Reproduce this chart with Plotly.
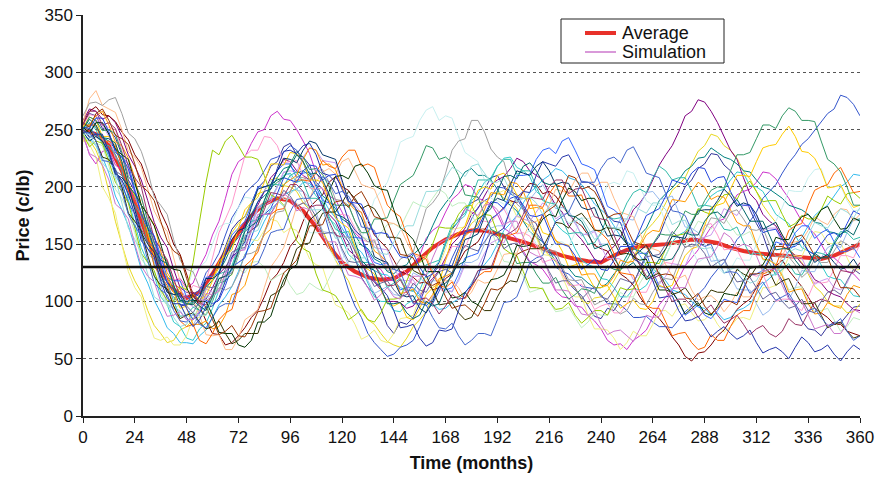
import plotly.graph_objects as go

months = list(range(0, 361, 6))      # average series grid
months3 = list(range(0, 361, 3))     # simulation grid
target_price = 130

average = [250, 246, 236, 214, 186, 155, 128, 110, 103, 108,
           124, 143, 160, 175, 185, 190, 188, 179, 165, 148,
           134, 126, 121, 119, 120, 126, 137, 147, 154, 159,
           162, 162, 159, 155, 152, 148, 144, 140, 137, 135,
           134, 140, 145, 148, 149, 150, 152, 154, 153, 151,
           147, 144, 142, 141, 140, 139, 138, 137, 140, 145, 150]

# ---- simulation paths read every 3 months ----
sim_01 = [255,264,262,251,250,243,228,206,196,184,165,152,132,117,110,96,97,108,104,118,125,133,148,163,170,174,186,199,205,218,222,235,238,228,226,219,204,198,186,176,160,152,138,121,112,107,94,79,72,82,80,86,98,115,125,134,150,163,170,181,186,189,198,208,210,200,196,193,182,172,168,153,144,139,128,116,110,105,96,87,85,94,92,101,110,116,128,142,150,157,172,183,188,200,206,216,220,229,228,219,214,206,196,180,168,158,142,127,118,104,96,83,76,75,70,78,82,81,88,95,96]
sim_02 = [246,228,220,231,232,219,215,204,188,177,160,151,135,129,118,120,112,116,130,141,158,170,190,211,222,226,238,248,250,262,266,259,258,250,240,229,212,204,192,189,178,166,160,154,142,131,128,119,118,126,124,129,140,155,162,166,178,189,194,202,200,190,188,185,176,164,160,155,144,135,132,128,120,109,104,103,96,95,88,83,76,66,62,63,58,66,70,75,86,97,104,110,120,131,138,145,156,165,170,172,182,193,196,198,204,213,212,207,198,190,180,170,164,159,150,140,138,133,126,124,118]
sim_03 = [240,241,232,218,196,170,150,131,118,108,92,79,72,64,66,75,78,84,96,110,120,129,146,160,168,174,186,194,196,206,208,201,200,196,186,180,170,162,150,136,126,118,104,91,84,80,72,65,62,60,68,78,84,91,104,117,124,131,146,159,168,173,184,193,196,190,188,181,170,166,156,146,140,135,124,116,112,101,98,103,104,109,118,128,132,138,150,162,168,175,186,197,202,208,220,231,236,246,244,236,232,225,214,207,196,184,176,169,158,146,140,134,124,113,108,100,96,96,90,91,98]
sim_04 = [250,253,244,239,226,210,200,189,168,147,134,123,104,97,82,78,68,66,76,81,94,110,120,128,146,154,168,181,186,190,200,210,212,204,206,201,192,186,172,167,154,141,136,129,116,104,100,100,92,91,98,101,110,123,128,135,150,164,170,175,188,194,204,208,218,225,226,217,214,209,196,191,180,168,162,158,146,136,132,130,120,119,112,104,104,111,110,114,124,129,140,152,158,161,170,180,184,192,196,198,206,213,212,201,200,196,186,176,172,168,158,147,144,141,132,122,120,119,112,105,104]
sim_05 = [258,268,266,259,262,256,244,228,218,206,188,169,156,147,128,112,108,108,100,102,112,124,130,138,152,168,176,184,196,208,214,224,222,214,210,206,196,183,176,170,158,145,140,134,122,117,110,100,100,99,94,96,104,114,120,127,138,150,156,164,176,181,192,202,206,209,216,225,222,214,210,206,194,184,178,166,160,154,146,137,134,143,148,156,168,180,186,194,206,219,228,236,248,262,266,276,274,266,256,244,232,224,208,194,188,176,170,166,156,145,140,133,128,119,116,109,106,104,98,93,92]
sim_06 = [256,266,270,263,262,257,248,241,228,220,204,194,178,166,150,141,124,106,96,83,72,71,62,64,70,77,86,92,104,118,124,134,148,155,170,182,188,193,204,209,200,197,188,182,170,158,152,146,136,126,124,121,116,117,110,112,120,124,134,144,148,152,162,172,176,182,188,186,196,203,202,194,196,192,184,176,170,166,158,149,146,144,134,124,120,114,104,96,90,85,78,69,62,52,48,55,56,62,70,75,84,93,98,102,112,122,124,131,136,127,120,113,104,94,90,86,80,80,74,72,70]
sim_07 = [248,256,252,243,240,233,220,203,192,178,160,147,130,122,110,101,98,99,104,113,118,126,136,149,156,163,176,187,192,198,208,216,218,212,214,210,202,192,188,181,172,168,158,149,146,137,134,126,124,130,132,141,146,153,166,178,186,193,204,213,216,210,210,206,198,188,184,179,170,161,156,152,144,135,132,129,122,121,116,112,112,116,124,130,140,151,158,164,176,188,194,199,206,214,218,225,226,234,230,226,224,220,214,213,206,200,198,194,190,184,182,180,176,169,168,161,160,158,164,171,172]
sim_08 = [252,250,246,240,228,214,204,186,176,158,146,136,120,108,104,97,98,106,110,125,132,142,158,173,182,194,200,205,214,224,226,230,236,232,222,205,196,182,162,141,128,110,96,86,72,64,58,52,54,60,62,66,78,91,98,109,124,138,150,158,172,182,188,191,200,199,194,190,180,168,160,152,142,130,126,124,118,113,112,111,106,98,98,97,92,86,86,87,82,78,78,77,84,91,96,106,112,121,128,134,144,154,160,170,178,190,196,202,212,221,228,237,242,249,256,264,268,280,278,272,262]
sim_09 = [244,242,236,226,212,192,180,166,148,128,116,101,90,77,72,64,64,63,70,75,86,97,104,113,126,141,150,158,170,180,186,193,196,198,204,203,196,190,180,173,164,155,148,143,134,127,124,123,118,112,110,109,104,99,98,93,94,99,102,107,116,126,132,139,150,162,168,175,186,195,200,206,210,216,214,208,206,202,194,185,180,175,166,157,152,148,140,132,128,125,118,110,108,106,100,95,94,88,90,84,86,92,94,98,106,115,120,125,134,144,150,156,166,175,180,184,192,200,204,211,210]

# paths given as 6-monthly readings (t = 0, 6, ...) plus in-between readings (t = 3, 9, ...)
sim_10_a = [250,240,222,198,168,140,118,102,110,130,150,168,182,190,196,200,190,176,160,146,136,150,172,196,220,242,258,270,262,244,226,206,188,172,158,150,146,152,160,172,188,204,214,200,184,168,156,146,138,130,128,136,150,166,182,196,208,216,200,188,180]
sim_10_m = [251,224,215,179,162,123,113,98,127,135,165,168,191,189,206,189,186,160,160,136,149,154,189,204,239,244,267,258,260,230,222,190,185,161,162,142,152,148,173,175,202,202,212,188,184,156,154,134,141,124,138,136,163,170,197,196,215,200,201,179]
sim_11_a = [246,238,218,190,160,130,108,94,88,96,106,118,128,134,130,122,114,108,112,120,132,144,154,160,168,176,184,190,194,186,176,162,148,134,122,110,100,92,86,82,88,96,104,116,128,140,150,160,168,172,166,158,148,136,124,112,100,92,84,78,84]
sim_11_m = [238,236,198,178,137,126,96,97,85,106,108,131,125,135,118,125,106,116,109,131,134,157,151,167,164,187,182,198,183,186,165,163,135,131,108,112,91,95,77,90,88,108,104,125,126,152,150,170,163,174,158,161,136,133,110,113,91,94,74,86]
sim_12_a = [242,226,190,150,112,84,66,62,70,86,104,122,140,154,162,170,164,150,132,112,94,80,70,66,72,86,104,124,146,164,178,188,194,186,172,156,140,122,104,88,76,68,64,70,80,92,96,90,84,80,78,86,98,112,126,140,152,160,150,138,128]
sim_12_m = [237,200,177,126,104,68,69,62,86,89,116,123,154,153,172,160,162,137,130,97,90,67,75,64,85,88,119,131,163,165,186,183,197,174,170,141,136,109,104,76,75,58,74,70,92,87,98,83,90,73,85,84,112,114,139,139,161,151,152,127]
sim_13_a = [252,244,228,204,174,142,114,94,84,90,104,124,146,168,186,200,210,196,178,160,144,130,118,110,106,112,122,118,112,120,134,150,166,180,190,196,192,182,170,160,150,160,172,184,196,190,178,164,150,136,122,110,98,92,100,112,126,138,150,160,170]
sim_13_m = [243,242,209,194,154,136,98,92,79,104,109,141,150,182,189,213,197,190,161,159,132,130,107,113,105,125,114,118,108,134,137,164,166,190,189,202,181,179,157,162,150,172,171,195,189,192,165,160,135,136,111,110,88,101,102,127,126,147,147,172]
sim_14_a = [254,262,252,232,204,172,142,118,104,112,138,172,206,232,244,236,222,210,198,188,176,164,152,140,130,124,120,126,136,148,160,170,176,170,160,148,136,124,114,104,96,90,98,108,120,134,148,160,166,158,146,134,122,110,102,96,104,116,128,140,150]
sim_14_m = [263,253,250,212,191,149,137,106,114,118,160,185,227,232,243,221,223,199,199,175,175,154,154,129,130,114,130,126,148,147,170,169,181,159,157,134,137,114,115,93,98,90,111,108,130,133,161,158,168,145,145,124,124,100,102,92,117,117,140,138]
sim_15_a = [248,258,244,222,194,164,136,114,100,98,108,124,144,164,184,200,214,226,232,222,204,184,164,146,130,118,108,104,108,118,130,142,154,164,172,178,182,176,168,158,148,138,130,124,118,122,132,144,156,168,178,184,176,164,150,138,126,118,112,116,124]
sim_15_m = [247,254,225,215,174,156,118,112,95,111,110,137,146,181,187,213,213,234,223,221,188,177,147,145,119,119,99,111,109,132,130,151,151,175,170,186,172,177,159,161,137,137,119,128,115,133,131,155,158,181,175,183,162,164,139,138,115,120,110,128]
sim_16_a = [256,284,268,250,226,198,168,138,110,88,70,58,68,88,112,138,164,186,204,216,222,214,200,184,168,152,138,126,118,112,108,116,128,142,156,170,184,196,206,212,204,190,176,160,146,132,120,110,104,100,98,104,114,126,140,152,162,170,176,180,176]
sim_16_m = [277,271,265,231,217,179,161,118,102,71,71,58,84,93,130,147,183,189,213,211,225,202,198,169,165,141,140,116,118,102,119,117,141,142,168,173,198,195,212,200,204,178,174,146,144,122,123,101,105,91,108,104,126,126,151,153,174,167,181,170]
sim_17_a = [250,256,246,226,198,168,140,118,104,108,122,142,164,184,200,214,220,212,200,186,170,156,144,132,120,112,106,102,110,124,140,158,176,194,210,224,234,240,232,218,200,180,160,142,126,112,100,92,88,92,100,112,124,138,150,160,166,160,152,144,138]
sim_17_m = [246,256,232,220,177,157,121,118,101,121,125,158,170,200,201,220,208,213,188,184,156,155,134,134,110,112,96,113,112,138,142,172,181,210,211,232,229,243,220,215,183,175,147,142,113,109,88,97,85,102,99,123,127,152,149,166,155,163,143,147]
sim_18_a = [246,250,236,214,184,152,122,100,88,92,106,126,148,170,188,202,210,204,190,174,160,146,134,124,116,110,118,134,152,172,190,206,218,224,214,200,186,172,160,150,160,172,186,198,208,214,208,196,184,172,162,152,142,134,128,124,132,142,152,160,156]
sim_18_m = [256,237,228,191,175,132,117,87,95,95,124,131,162,171,202,201,213,190,187,163,161,134,132,112,120,109,132,136,167,177,206,206,224,211,214,188,185,159,160,151,174,173,195,195,218,206,208,183,183,163,165,141,141,123,133,123,143,140,161,154]
sim_19_a = [246,240,222,196,164,134,110,100,110,170,232,240,236,226,210,190,168,146,124,108,96,88,84,90,102,118,134,150,164,176,184,176,160,142,126,112,100,94,88,86,92,100,110,122,134,146,158,168,178,186,194,200,196,188,176,168,172,180,188,194,190]
sim_19_m = [235,238,204,186,142,127,101,113,134,204,228,245,226,224,193,184,153,143,110,105,84,93,82,102,103,131,138,165,164,183,172,175,146,140,112,111,93,99,81,92,88,112,111,134,133,157,159,181,176,193,189,205,187,188,165,175,172,192,185,195]
sim_20_a = [252,258,244,222,192,160,130,108,96,102,118,140,164,186,204,220,230,222,206,188,168,148,128,110,96,86,94,112,136,160,182,200,210,204,190,174,158,144,132,122,112,104,98,94,100,112,128,146,166,184,198,210,222,236,246,244,230,214,200,190,184]
sim_20_m = [261,244,238,203,184,139,122,94,106,105,135,145,180,191,220,219,229,206,204,173,164,131,124,99,99,84,106,116,155,166,197,198,212,193,190,160,154,130,134,112,114,94,101,93,114,114,140,148,182,186,210,209,234,237,253,231,225,199,202,182]
sim_21_a = [254,262,254,236,208,176,144,116,94,80,76,88,108,132,158,184,206,224,232,220,200,180,160,140,122,108,100,106,122,142,162,180,194,204,196,182,166,150,136,124,114,122,134,148,162,176,188,196,200,192,180,166,150,136,122,110,98,90,96,106,112]
sim_21_m = [254,266,239,225,184,167,125,111,80,83,78,106,114,148,163,202,210,234,219,215,186,178,144,134,107,111,98,120,125,157,167,195,193,203,181,181,153,149,123,124,114,136,135,158,161,189,187,204,189,191,169,166,137,132,108,111,89,99,94,114]
sim_22_a = [248,254,240,218,188,154,122,96,78,66,72,90,112,136,160,180,196,206,212,218,226,232,220,200,178,158,140,124,112,106,112,126,142,158,172,184,194,200,192,178,160,142,124,108,94,82,72,64,60,66,78,92,108,126,146,166,184,200,212,206,196]
sim_22_m = [254,239,236,198,177,131,114,83,80,63,84,93,131,143,176,181,206,205,223,216,232,218,217,184,174,142,137,114,117,103,122,126,157,160,184,182,202,192,193,163,154,125,123,96,94,70,73,58,71,66,88,92,124,131,162,168,197,202,217,195]
sim_23_a = [250,246,232,210,182,152,126,106,96,100,112,128,146,162,176,186,192,186,174,160,146,134,124,116,110,106,110,118,128,138,146,152,156,150,142,134,126,118,112,108,104,110,118,128,140,150,156,150,142,134,126,118,112,106,100,96,92,100,110,118,124]
sim_23_m = [243,245,214,201,163,147,110,104,90,113,115,143,147,174,177,197,183,183,159,160,135,135,113,118,104,116,108,126,125,149,144,160,146,151,134,138,116,118,102,113,102,120,116,139,141,161,147,149,130,137,117,121,102,108,94,102,90,108,106,128]
sim_24_a = [262,274,276,264,242,214,184,154,128,112,104,110,124,142,160,178,196,208,214,204,188,170,152,138,128,140,162,186,212,240,258,248,226,202,180,160,144,130,118,108,100,94,92,98,108,120,134,148,162,172,178,172,162,150,140,132,126,134,144,150,154]
sim_24_m = [273,271,278,247,231,191,176,136,126,101,112,113,141,145,172,179,209,206,215,189,184,157,153,127,137,143,181,194,232,242,258,233,222,185,173,144,144,119,119,97,102,89,103,97,117,119,148,150,173,168,180,163,164,139,139,121,137,134,153,145]
sim_25_a = [248,244,230,208,180,150,124,106,98,104,120,140,162,182,200,214,224,232,238,226,206,182,158,136,118,104,94,100,116,136,156,174,190,202,212,218,214,204,192,180,168,158,150,144,140,146,156,168,180,188,192,186,176,166,158,150,144,138,134,130,128]
sim_25_m = [240,240,211,201,160,143,108,107,97,120,124,154,164,198,202,225,221,240,228,224,188,173,139,134,106,105,90,113,122,154,159,185,188,214,210,222,202,203,182,182,157,157,139,149,138,157,155,179,180,198,183,184,163,169,149,153,134,141,128,137]
sim_26_a = [250,258,250,230,202,170,140,114,98,92,100,118,140,162,184,204,220,226,216,200,184,170,160,172,188,206,222,234,226,210,192,176,160,146,134,124,116,110,106,110,120,128,136,144,150,158,166,176,188,200,214,228,242,254,262,266,258,240,220,200,184]
sim_26_m = [261,249,246,209,191,151,135,100,98,88,116,124,157,166,199,208,231,215,211,184,184,160,172,173,202,210,236,224,221,193,191,163,159,133,134,116,121,102,111,107,131,127,146,140,159,158,179,176,197,199,228,230,254,251,269,258,257,224,213,184]
sim_27_a = [252,256,246,228,204,176,150,128,112,100,88,72,62,66,82,104,128,152,176,196,210,218,212,198,180,160,142,126,112,104,100,108,120,134,148,162,176,188,196,190,178,164,150,136,122,110,100,94,90,96,106,118,130,142,154,166,176,180,172,164,170]
sim_27_m = [247,256,233,224,184,166,131,127,101,100,73,72,60,82,87,119,132,171,181,209,207,220,201,197,164,154,126,126,103,108,97,119,123,149,149,172,174,199,188,190,164,162,139,137,110,108,89,99,88,107,105,129,132,156,154,174,170,183,163,173]
sim_28_a = [246,240,224,200,170,140,114,96,88,82,78,72,66,72,88,108,130,150,166,178,186,190,184,172,156,140,124,110,98,90,86,92,104,118,132,146,158,168,174,170,162,152,142,132,122,114,108,104,102,108,116,124,130,126,118,108,98,88,80,74,70]
sim_28_m = [251,226,215,177,162,122,111,85,90,76,83,63,72,72,105,114,146,151,177,178,196,181,181,156,155,127,123,97,99,84,97,92,114,117,146,147,169,164,177,162,165,141,140,119,125,106,112,96,110,108,128,121,131,114,120,98,99,77,82,68]
sim_29_a = [256,264,258,242,220,196,170,144,120,100,84,74,70,78,92,110,130,150,166,180,188,192,186,172,156,140,126,114,104,96,92,98,110,126,144,162,180,196,208,200,186,176,164,150,136,124,112,102,96,94,100,110,124,136,148,156,150,138,124,112,104]
sim_29_m = [252,268,245,237,201,188,153,140,104,95,71,79,69,91,94,125,136,166,167,187,182,196,174,170,141,138,116,117,94,97,87,111,113,141,146,176,184,210,198,196,173,177,152,149,123,123,103,107,89,100,97,124,125,148,145,158,140,139,112,111]
sim_30_a = [254,266,256,236,208,176,146,120,104,98,106,122,142,162,180,194,202,196,184,170,156,144,132,122,114,108,102,98,96,102,114,128,144,160,176,190,200,206,198,186,172,158,144,132,120,110,102,96,92,88,84,80,76,72,74,80,90,102,114,126,134]
sim_30_m = [266,254,251,218,200,155,136,104,108,97,120,125,157,167,195,192,202,182,184,158,156,131,132,114,119,99,103,89,106,103,127,129,157,164,191,189,206,194,199,174,171,144,143,122,123,100,102,86,97,81,88,71,79,69,85,79,99,100,127,125]
sim_31_a = [250,246,230,206,176,146,118,98,86,84,96,118,144,172,196,216,232,236,228,210,188,162,136,112,92,78,68,64,74,92,114,138,160,180,196,210,220,226,218,204,188,170,152,134,118,104,92,84,78,74,72,70,64,58,56,60,64,58,54,56,58]
sim_31_m = [244,246,212,194,153,139,103,98,78,95,103,139,152,187,198,231,229,238,212,204,171,157,118,105,77,80,61,75,76,108,122,157,164,191,195,222,218,228,204,201,175,169,137,129,103,105,83,87,69,78,67,75,55,60,50,69,56,62,48,62]
sim_32_a = [248,240,222,196,166,136,110,92,82,80,86,98,114,130,146,162,178,190,198,204,196,182,164,146,128,112,98,86,76,70,66,72,84,100,118,138,156,174,190,204,216,226,232,224,210,194,178,162,148,136,126,118,112,108,104,98,92,86,80,74,70]
sim_32_m = [247,223,216,176,157,116,106,83,89,77,95,98,129,133,160,163,189,190,209,194,192,165,162,132,126,98,97,77,81,62,72,70,99,104,134,140,170,178,205,204,224,221,235,212,208,179,175,151,150,125,125,107,117,101,107,88,94,79,85,66]
sim_33_a = [252,260,248,226,196,164,134,110,94,90,98,114,134,156,176,194,206,214,218,210,198,186,172,160,148,138,130,124,132,146,162,176,186,190,184,174,162,150,140,132,128,136,148,162,178,192,204,212,216,208,196,184,172,162,154,148,144,150,160,168,176]
sim_33_m = [251,260,230,216,176,157,116,105,84,101,101,130,138,171,181,208,204,219,206,211,187,185,159,159,139,142,121,131,131,161,164,187,181,192,175,176,150,148,128,137,127,148,148,175,181,206,202,217,204,209,185,184,160,163,147,154,141,158,156,179]
sim_34_a = [246,236,214,186,154,124,100,86,80,88,102,120,140,160,176,188,194,190,180,168,156,146,138,142,152,166,182,196,208,214,218,212,204,196,190,186,182,176,170,164,158,164,172,180,186,180,170,158,146,136,128,122,118,124,134,146,158,166,172,178,182]
sim_34_m = [246,221,208,164,142,104,100,78,90,88,116,126,158,162,185,183,199,180,180,155,156,138,148,141,162,166,196,197,217,209,220,204,208,187,191,176,186,168,173,154,166,164,184,177,186,167,171,147,147,125,130,116,129,123,143,144,169,164,181,173]
sim_35_a = [244,226,206,180,150,122,100,88,84,92,106,124,144,162,176,186,190,182,168,152,136,122,112,106,104,110,122,138,154,168,178,184,180,170,156,140,124,110,98,88,80,74,70,76,86,98,112,126,138,148,156,150,140,128,114,100,88,78,72,80,90]
sim_35_m = [229,219,185,172,131,117,87,91,84,107,109,137,145,176,176,194,179,180,156,152,123,120,101,112,102,122,123,151,157,181,175,185,167,170,143,138,110,109,89,92,71,75,65,88,87,111,112,137,139,160,147,148,126,128,102,100,76,80,72,93]
sim_36_a = [250,254,242,222,194,164,136,114,100,96,104,122,144,166,188,206,218,222,212,194,174,152,130,112,98,90,88,96,112,132,154,176,196,210,218,214,202,188,174,160,148,138,130,126,128,136,146,158,170,178,184,180,170,158,146,136,130,138,150,162,170]
sim_36_m = [259,243,238,201,184,146,133,101,101,92,120,128,161,170,202,208,228,211,206,176,170,136,127,98,99,85,100,98,125,135,172,181,209,207,221,204,203,175,170,146,150,129,134,120,137,137,160,158,177,173,189,170,170,145,146,129,142,138,159,158]


def weave(six_monthly, in_between):
    out = []
    for a, m in zip(six_monthly, in_between):
        out += [a, m]
    out.append(six_monthly[len(in_between)])
    return out


simulations = [sim_01, sim_02, sim_03, sim_04, sim_05, sim_06, sim_07, sim_08, sim_09,
               weave(sim_10_a, sim_10_m), weave(sim_11_a, sim_11_m), weave(sim_12_a, sim_12_m),
               weave(sim_13_a, sim_13_m), weave(sim_14_a, sim_14_m), weave(sim_15_a, sim_15_m),
               weave(sim_16_a, sim_16_m), weave(sim_17_a, sim_17_m), weave(sim_18_a, sim_18_m),
               weave(sim_19_a, sim_19_m), weave(sim_20_a, sim_20_m), weave(sim_21_a, sim_21_m),
               weave(sim_22_a, sim_22_m), weave(sim_23_a, sim_23_m), weave(sim_24_a, sim_24_m),
               weave(sim_25_a, sim_25_m), weave(sim_26_a, sim_26_m), weave(sim_27_a, sim_27_m),
               weave(sim_28_a, sim_28_m), weave(sim_29_a, sim_29_m), weave(sim_30_a, sim_30_m),
               weave(sim_31_a, sim_31_m), weave(sim_32_a, sim_32_m), weave(sim_33_a, sim_33_m),
               weave(sim_34_a, sim_34_m), weave(sim_35_a, sim_35_m), weave(sim_36_a, sim_36_m)]

sim_colors = ["#333399", "#CC33CC", "#E8D820", "#33CCCC", "#800080", "#800000",
              "#008080", "#3355CC", "#33BBEE", "#C8F0F0", "#C0EEC0", "#F0F080",
              "#99BBEE", "#FF99CC", "#CC99EE", "#FFBB88", "#3366FF", "#33BBAA",
              "#99CC00", "#FFCC00", "#FF9900", "#FF6600", "#666699", "#A0A0A0",
              "#003366", "#339966", "#003300", "#333300", "#993300", "#993366",
              "#2233AA", "#4466CC", "#2244DD", "#99DDDD", "#CC77CC", "#006666"]

x_ticks = list(range(0, 361, 24))
y_ticks = list(range(0, 351, 50))
legend_labels = ["Average", "Simulation"]
legend_colors = ["#E8312A", "#CC77CC"]

FONT = "Arial, 'Liberation Sans', Helvetica, sans-serif"

# pixel geometry of the plot area (877 x 478 canvas)
L, R, T, B = 83, 17, 15, 62
PW, PH = 877 - L - R, 478 - T - B


def px(x):
    return (x - L) / PW


def py(y):
    return (478 - B - y) / PH


fig = go.Figure()

# average series is drawn first (underneath the simulation paths)
fig.add_trace(go.Scatter(
    x=months, y=average, mode="lines",
    line=dict(color=legend_colors[0], width=4), showlegend=False))

for vals, col in zip(simulations, sim_colors):
    fig.add_trace(go.Scatter(
        x=months3[:len(vals)], y=vals, mode="lines",
        line=dict(color=col, width=1), showlegend=False, hoverinfo="skip"))

fig.add_hline(y=target_price, line=dict(color="#111111", width=2.5))

shapes = [
    dict(type="rect", xref="paper", yref="paper", x0=0, x1=1, y0=0, y1=1,
         line=dict(color="#AAAAAA", width=1), layer="below"),
    dict(type="rect", xref="paper", yref="paper", x0=px(561), x1=px(724), y0=py(63), y1=py(19),
         line=dict(color="#222222", width=1), fillcolor="white", layer="above"),
    dict(type="line", xref="paper", yref="paper", x0=px(585), x1=px(616), y0=py(33), y1=py(33),
         line=dict(color=legend_colors[0], width=4), layer="above"),
    dict(type="line", xref="paper", yref="paper", x0=px(585), x1=px(616), y0=py(52), y1=py(52),
         line=dict(color=legend_colors[1], width=1.5), layer="above"),
]
annotations = [
    dict(xref="paper", yref="paper", x=px(620), y=py(33), text=legend_labels[0],
         showarrow=False, xanchor="left", yanchor="middle",
         font=dict(family=FONT, size=18, color="#111111")),
    dict(xref="paper", yref="paper", x=px(620), y=py(52), text=legend_labels[1],
         showarrow=False, xanchor="left", yanchor="middle",
         font=dict(family=FONT, size=18, color="#111111")),
]

fig.update_layout(
    width=877, height=478,
    margin=dict(l=L, r=R, t=T, b=B),
    paper_bgcolor="white", plot_bgcolor="white",
    font=dict(family=FONT, size=17, color="#111111"),
    showlegend=False, shapes=shapes, annotations=annotations,
)

fig.update_xaxes(
    range=[0, 360], tickvals=x_ticks, ticktext=[str(v) for v in x_ticks],
    showgrid=False, zeroline=False, automargin=False,
    showline=True, linecolor="#222222", linewidth=1.5,
    ticks="outside", ticklen=5, tickcolor="#222222",
    tickfont=dict(size=17),
    title=dict(text="<b>Time (months)</b>", font=dict(size=18), standoff=10),
)
fig.update_yaxes(
    range=[0, 350], tickvals=y_ticks, ticktext=[str(v) for v in y_ticks],
    showgrid=True, gridcolor="#555555", griddash="3px,3px", gridwidth=1,
    zeroline=False, automargin=False,
    showline=True, linecolor="#222222", linewidth=1.5,
    ticks="outside", ticklen=5, tickcolor="#222222",
    tickfont=dict(size=17),
    title=dict(text="<b>Price (c/lb)</b>", font=dict(size=18), standoff=10),
)

fig.write_html("out.html")
